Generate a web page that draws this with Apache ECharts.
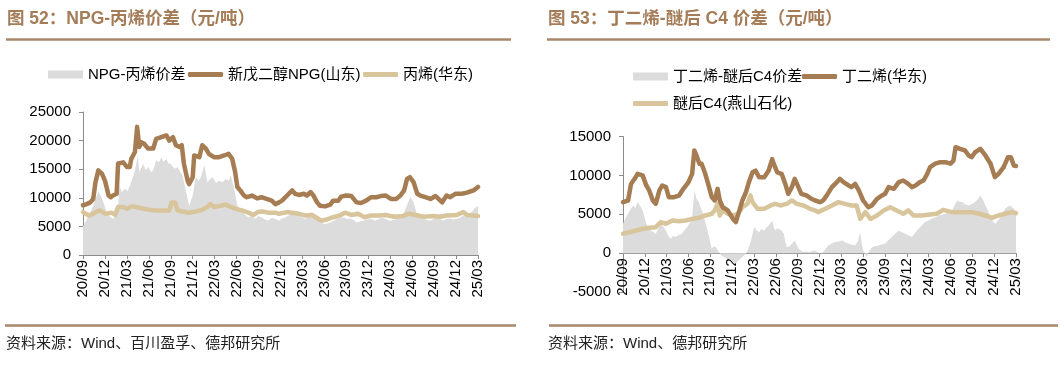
<!DOCTYPE html>
<html><head><meta charset="utf-8">
<script src="https://cdn.jsdelivr.net/npm/echarts/dist/echarts.min.js"></script>
<style>html,body{margin:0;padding:0;background:#fff}#c{width:1063px;height:366px}</style>
</head><body><div id="c"></div><script>
// x = months since 2020/09
const quarterLabels = ['20/09','20/12','21/03','21/06','21/09','21/12','22/03','22/06','22/09','22/12','23/03','23/06','23/09','23/12','24/03','24/06','24/09','24/12','25/03'];

// Chart 52
const npgSpread = [[0,5000],[0.5,6200],[1,7500],[1.4,8600],[1.7,9800],[2.1,11100],[2.5,10200],[2.8,9200],[3.2,7600],[3.5,6900],[4.1,6300],[4.6,7200],[4.8,8600],[5,12100],[5.3,11000],[5.7,11600],[6.1,11200],[6.4,12100],[6.8,13500],[7.1,14800],[7.5,17400],[7.7,14500],[8.2,15900],[8.6,14800],[8.9,15400],[9.3,14500],[9.6,14800],[10,16500],[10.4,16200],[10.7,17100],[11,16300],[11.4,16800],[11.7,16000],[12,15900],[12.5,15100],[12.9,15400],[13.3,14500],[13.6,13900],[14.1,11000],[14.5,8600],[15,10400],[15.4,13600],[15.8,13000],[16.1,13600],[16.6,15700],[17,12700],[17.4,13300],[17.7,13600],[18.2,12600],[18.6,13000],[19.1,12700],[19.5,13300],[19.9,13000],[20.2,13900],[20.6,11900],[21.1,8600],[21.7,7500],[22.2,7000],[22.6,6600],[23.1,6900],[23.5,6300],[24,6800],[24.4,6600],[24.9,6200],[25.3,6000],[25.8,6500],[26.3,6300],[26.8,6000],[27.2,6400],[27.7,6600],[28.2,7000],[28.6,7500],[29.1,7100],[29.5,6900],[30,6500],[30.4,6300],[30.9,6900],[31.3,7500],[31.8,6800],[32.2,6000],[32.9,5400],[33.4,5500],[33.8,5700],[34.3,6000],[34.7,6300],[35.2,6500],[35.6,6600],[36.1,6300],[36.5,6400],[37,6100],[37.4,5700],[37.9,5900],[38.3,6000],[38.8,6200],[39.4,6300],[39.9,6000],[40.3,6200],[40.8,6500],[41.4,6300],[41.9,6000],[42.5,6100],[43.1,6500],[43.7,6900],[44.1,8100],[44.5,9400],[44.8,10100],[45.2,9200],[45.7,6900],[46.1,6500],[46.6,6300],[47.1,6100],[47.5,6000],[48,6400],[48.4,6600],[48.9,6200],[49.3,6000],[49.7,6300],[50.2,6400],[50.6,6200],[51.1,6300],[51.6,6600],[52,6900],[52.5,7000],[52.9,7200],[53.5,8100],[54,8600]];
const npgPrice = [[0,8700],[0.5,8900],[1,9200],[1.4,9800],[1.7,12700],[2.1,14800],[2.6,14200],[3,13000],[3.5,10400],[3.8,10100],[4.1,10400],[4.6,10700],[4.8,16000],[5.5,16200],[6,15400],[6.4,15400],[6.6,16800],[7.1,18000],[7.4,22400],[7.7,18900],[8,19700],[8.4,19400],[8.9,18600],[9.6,18600],[10,20300],[10.7,20600],[11.4,20900],[11.8,20000],[12.3,20600],[12.7,19200],[13.2,18900],[13.5,19200],[13.8,15900],[14.3,13000],[14.5,12400],[15,13600],[15.2,17400],[15.9,17100],[16.3,19200],[16.8,18600],[17.2,17700],[17.9,17100],[18.6,17100],[19.3,17400],[19.9,17700],[20.4,16800],[20.8,14500],[21.1,11900],[21.5,11300],[22,10400],[22.4,10100],[23.1,10400],[23.8,9900],[24.4,10100],[25.1,9800],[25.8,9500],[26.3,8900],[26.8,9200],[27.2,9500],[27.9,10400],[28.6,11300],[29,10700],[29.5,10500],[30.2,10700],[30.6,10400],[31.1,11000],[31.5,10400],[32,9200],[32.4,8600],[33.1,8500],[33.8,8800],[34.2,9500],[34.9,9500],[35.3,10200],[36,10400],[36.7,10300],[37.4,9200],[38,9100],[38.7,9500],[39.4,10100],[40.1,10100],[40.7,10300],[41.4,10400],[42.1,9800],[42.8,9800],[43.4,10400],[43.9,11300],[44.3,13300],[44.7,13600],[45.2,12700],[45.7,10700],[46.1,10400],[46.8,10100],[47.5,9800],[48.2,10300],[48.6,9800],[49.1,9200],[49.7,10400],[50.2,10100],[50.9,10700],[51.8,10700],[52.5,10900],[52.9,11100],[53.4,11300],[54,11900]];
const propylenePrice = [[0,7500],[0.8,6900],[1.4,7200],[1.9,7600],[2.3,7800],[2.8,7400],[3.2,7200],[3.9,7400],[4.4,7000],[4.8,8400],[5.5,8400],[6,8100],[6.6,8500],[7.3,8400],[8.2,8100],[9.1,7900],[10,7800],[10.9,7800],[11.8,7800],[12.1,9200],[12.6,9200],[12.9,7800],[13.6,7600],[14.5,7400],[15.4,7600],[16.3,7900],[17,8400],[17.4,8900],[17.9,8400],[18.8,8600],[19.5,8800],[20.2,8400],[20.8,8100],[21.7,7800],[22.6,7400],[23.3,7000],[23.9,7500],[24.6,7600],[25.3,7400],[26.3,7400],[26.8,7200],[27.9,7500],[28.6,7400],[29.5,7200],[30.4,6900],[31.3,7000],[32.2,6300],[32.6,6000],[33.3,6200],[34.2,6600],[35.1,6900],[35.8,7400],[36.7,7000],[37.6,7200],[38.5,6600],[39.4,6900],[40.3,6900],[41.4,7000],[42.5,6700],[43.7,6800],[44.5,7200],[45.5,7000],[46.6,6700],[47.9,6800],[48.8,6700],[49.7,6900],[51.1,7000],[52,7500],[52.5,7000],[53.3,6900],[54,6800]];

// Chart 53
const c4Spread = [[0,3770],[0.4,4600],[0.7,5060],[1.1,5700],[1.4,6130],[1.7,5800],[2,6560],[2.4,6000],[2.7,5490],[3.2,3770],[3.5,3300],[3.8,2910],[4.2,2700],[4.5,2490],[4.9,3200],[5.2,3770],[5.6,3300],[5.9,2910],[6.2,2300],[6.5,1840],[6.9,2200],[7.2,2060],[7.6,2300],[8.1,2490],[8.5,3000],[8.8,3340],[9.2,3900],[9.5,4630],[9.8,8060],[10.1,7000],[10.4,6560],[10.7,5800],[11,5060],[11.5,3340],[11.9,1800],[12.2,560],[12.5,900],[12.8,770],[13.1,200],[13.5,-300],[13.9,-500],[14.2,-730],[14.6,-800],[14.9,-940],[15.2,-1100],[15.5,-1370],[15.8,-1000],[16.2,-730],[16.6,-300],[16.9,-90],[17.3,800],[17.6,1630],[18,3340],[18.3,3000],[18.7,2700],[19,3100],[19.4,2910],[19.7,3300],[20,3560],[20.3,3900],[20.5,4200],[20.7,3400],[20.9,2910],[21.2,3200],[21.4,3340],[21.8,2900],[22.1,2490],[22.3,1500],[22.5,770],[22.9,900],[23.2,1200],[23.6,1630],[23.9,1000],[24.1,560],[24.5,300],[24.8,130],[25.2,200],[25.7,130],[26,300],[26.4,340],[26.8,100],[27.3,-90],[27.7,400],[28.2,990],[28.6,1200],[29.1,1410],[29.6,1500],[30.1,1630],[30.5,1400],[31,1200],[31.4,1100],[31.9,990],[32.3,1600],[32.6,2700],[32.8,1200],[33,340],[33.5,-510],[33.8,200],[34.2,770],[34.6,900],[35.1,990],[35.5,1100],[36,1200],[36.4,1600],[36.9,2060],[37.4,2500],[37.9,2910],[38.3,2700],[38.8,2490],[39.2,2300],[39.7,2060],[40.1,2600],[40.6,3130],[41,3500],[41.5,3990],[42,4200],[42.4,4410],[42.9,4600],[43.4,4840],[43.8,4900],[44.3,5060],[44.8,5300],[45.2,5490],[45.5,6000],[45.9,6770],[46.2,6600],[46.6,6560],[47,6300],[47.5,6130],[47.9,6300],[48.4,6560],[48.8,7000],[49.1,7420],[49.5,6800],[49.8,6130],[50.2,5400],[50.5,4630],[50.9,4000],[51.2,3770],[51.5,4200],[51.9,4630],[52.2,5200],[52.5,5700],[52.9,6000],[53.2,6130],[53.6,5800],[53.9,5490],[54,5060]];
const butadienePrice = [[0,6560],[0.7,6770],[1.1,8900],[1.6,9560],[2,10200],[2.7,10000],[3.2,8700],[3.6,8060],[4.1,6770],[4.5,6340],[5,8060],[5.4,8700],[5.9,8490],[6.3,7200],[7,7200],[7.7,7400],[8.3,8270],[9,9130],[9.5,10200],[9.8,13200],[10.1,12560],[10.5,11500],[10.8,11500],[11.3,10200],[11.7,8900],[12.2,7200],[12.6,6770],[13,8270],[13.3,6770],[13.7,5900],[14.4,5490],[15.1,4400],[15.5,4000],[16,5490],[16.4,6770],[16.9,7840],[17.3,9130],[17.8,10400],[18.2,10600],[18.7,9770],[19.4,9770],[20,10600],[20.5,12100],[20.7,11500],[21.2,10400],[21.8,10200],[22.3,8900],[22.7,7630],[23.2,8490],[23.6,9560],[24.1,8490],[24.5,7630],[25.2,7420],[25.9,6990],[26.4,6770],[27.1,6560],[27.5,6770],[28,7420],[28.7,8490],[29.4,9130],[29.8,9560],[30.3,9130],[31,8700],[31.4,8490],[31.9,8900],[32.4,8060],[33,6770],[33.7,5900],[34.2,6130],[34.9,6990],[35.6,7420],[36,7630],[36.5,8490],[37.2,8270],[37.9,9130],[38.5,9340],[39.2,8900],[39.7,8490],[40.2,8700],[40.8,9130],[41.3,9340],[41.8,10200],[42.2,11060],[42.9,11500],[43.6,11700],[44.3,11700],[45,11500],[45.4,11900],[45.7,13630],[46.3,13400],[47,13200],[47.5,12560],[47.9,12340],[48.4,13000],[49.1,13400],[49.8,12560],[50.5,11500],[51.1,9770],[51.6,10200],[52.3,11060],[52.9,12340],[53.3,12340],[53.7,11270],[54,11200]];
const c4Price = [[0,2490],[0.9,2700],[1.8,2910],[2.7,3130],[3.6,3260],[4.5,3340],[5.2,3990],[5.9,3770],[6.8,4200],[7.7,4110],[8.6,4200],[9.5,4400],[10.4,4540],[11.3,4840],[12.2,5060],[12.6,5490],[13,6340],[13.3,4840],[13.7,5490],[14.4,5060],[15.1,4840],[15.8,5060],[16.4,5900],[17.1,6340],[17.5,7420],[17.8,6560],[18.5,5700],[19.4,5700],[20.3,6130],[20.9,6340],[21.6,6130],[22.5,6340],[23.2,6770],[23.9,6340],[24.8,6130],[25.7,5700],[26.4,5490],[26.8,5270],[27.8,5700],[28.7,6130],[29.6,6560],[30.5,6340],[31.4,6130],[32.1,6130],[32.6,4400],[33.3,5270],[34,4400],[34.9,4840],[35.8,5490],[36.7,5900],[37.6,5490],[38.5,5060],[39.2,5490],[39.9,4840],[41.1,4840],[42.2,4970],[43.1,5060],[44,5570],[45.2,5270],[46.6,5270],[47.9,5270],[48.9,5060],[49.8,4840],[50.7,4540],[51.6,4840],[52.5,5060],[53.4,5270],[54,5140]];

const FONT = "'Liberation Sans','Noto Sans CJK SC',sans-serif";
const DARK = '#a67c52', TAN = '#d9c59c', GREY = '#dcdcdc', TITLE = '#a47c58', RULE = '#a9876a';

function xAxis(i, offset){
  return {gridIndex:i, type:'value', min:0, max:54, interval:3, position:'bottom', offset:offset,
    axisLine:{onZero:false, lineStyle:{color:'#8c8c8c', width:1}},
    axisTick:{show:true, length:4, lineStyle:{color:'#8c8c8c'}},
    axisLabel:{rotate:90, margin:5, fontSize:15, color:'#000', fontFamily:FONT,
      formatter: v => quarterLabels[Math.round(v/3)]},
    splitLine:{show:false}};
}
function yAxis(i,min,max){
  return {gridIndex:i, type:'value', min:min, max:max, interval:5000,
    axisLine:{show:true, lineStyle:{color:'#8c8c8c', width:1}},
    axisTick:{show:true, length:4, lineStyle:{color:'#8c8c8c'}},
    axisLabel:{margin:12, fontSize:15, color:'#000', fontFamily:FONT, formatter: v => String(v)},
    splitLine:{show:false}};
}
function legend(name, left, top, h, icon){
  return {data:[{name:name, icon:icon}], left:left, top:top, itemWidth:35, itemHeight:h,
    selectedMode:false, padding:0, textStyle:{fontSize:15, color:'#000', fontFamily:FONT}};
}
function area(name, data, gi){
  return {name:name, type:'line', xAxisIndex:gi, yAxisIndex:gi, data:data, symbol:'none',
    itemStyle:{color:GREY}, lineStyle:{width:0, color:GREY}, areaStyle:{color:GREY, opacity:1}, z:1};
}
function line(name, data, gi, color, z){
  return {name:name, type:'line', xAxisIndex:gi, yAxisIndex:gi, data:data, symbol:'none',
    itemStyle:{color:color}, lineStyle:{width:4.5, color:color, join:'round', cap:'round'}, z:z};
}

const RIGHT_H = 155.5;
const chart = echarts.init(document.getElementById('c'), null, {renderer:'canvas'});
chart.setOption({
  animation:false,
  backgroundColor:'#fff',
  title:[
    {text:'图 52：NPG-丙烯价差（元/吨）', left:7, top:10, padding:0,
      textStyle:{fontSize:17.5, fontWeight:'bold', color:TITLE, fontFamily:FONT}},
    {text:'图 53：丁二烯-醚后 C4 价差（元/吨）', left:548, top:10, padding:0,
      textStyle:{fontSize:17.5, fontWeight:'bold', color:TITLE, fontFamily:FONT}},
    {text:'资料来源：Wind、百川盈孚、德邦研究所', left:6, top:336, padding:0,
      textStyle:{fontSize:15, fontWeight:'normal', color:'#222', fontFamily:FONT}},
    {text:'资料来源：Wind、德邦研究所', left:548, top:336, padding:0,
      textStyle:{fontSize:15, fontWeight:'normal', color:'#222', fontFamily:FONT}}
  ],
  graphic:[
    {type:'line', shape:{x1:6, y1:39.5, x2:511, y2:39.5}, style:{stroke:RULE, lineWidth:2.5}},
    {type:'line', shape:{x1:547, y1:39.5, x2:1050, y2:39.5}, style:{stroke:RULE, lineWidth:2.5}},
    {type:'line', shape:{x1:5, y1:325.5, x2:516, y2:325.5}, style:{stroke:RULE, lineWidth:2.5}},
    {type:'line', shape:{x1:549, y1:325.5, x2:1058, y2:325.5}, style:{stroke:RULE, lineWidth:2.5}}
  ],
  legend:[
    legend('NPG-丙烯价差', 48, 67, 8, 'rect'),
    legend('新戊二醇NPG(山东)', 188, 67, 5, 'roundRect'),
    legend('丙烯(华东)', 363, 67, 5, 'roundRect'),
    legend('丁二烯-醚后C4价差', 633, 69, 8, 'rect'),
    legend('丁二烯(华东)', 802, 69, 5, 'roundRect'),
    legend('醚后C4(燕山石化)', 633, 96, 5, 'roundRect')
  ],
  grid:[
    {left:83, top:112, width:395, height:143},
    {left:623, top:136.5, width:393, height:RIGHT_H}
  ],
  xAxis:[xAxis(0, 0), xAxis(1, -RIGHT_H/4)],
  yAxis:[yAxis(0,0,25000), yAxis(1,-5000,15000)],
  series:[
    area('NPG-丙烯价差', npgSpread, 0),
    line('丙烯(华东)', propylenePrice, 0, TAN, 2),
    line('新戊二醇NPG(山东)', npgPrice, 0, DARK, 3),
    area('丁二烯-醚后C4价差', c4Spread, 1),
    line('醚后C4(燕山石化)', c4Price, 1, TAN, 2),
    line('丁二烯(华东)', butadienePrice, 1, DARK, 3)
  ]
});
</script></body></html>
